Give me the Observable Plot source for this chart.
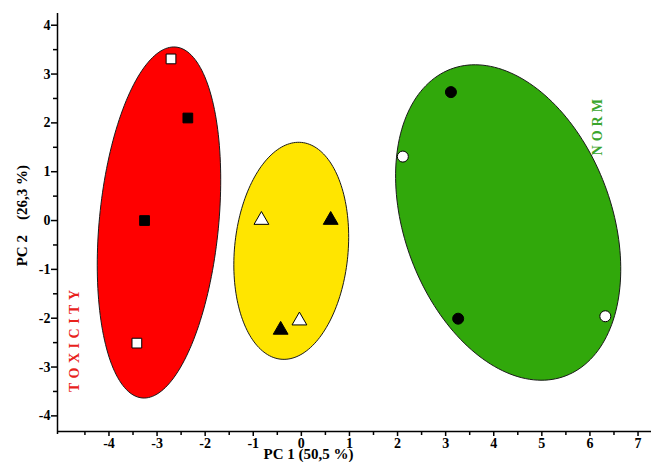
<!DOCTYPE html>
<html><head><meta charset="utf-8">
<script src="https://cdn.jsdelivr.net/npm/d3@7"></script>
<script src="https://cdn.jsdelivr.net/npm/@observablehq/plot@0.6"></script>
<style>body{margin:0;background:#fff} svg{display:block}</style>
</head><body><div id="chart"></div>
<script>
// Groups and their confidence ellipses (PCA score plot)
const groups       = ["TOXICITY", "MIDDLE", "NORM"];
const groupFill    = ["#ff0000", "#ffe500", "#31a80b"];
const groupSymbol  = ["square", "triangle", "circle"];
const ellipseCx    = [-2.96, -0.21, 4.30];
const ellipseCy    = [-0.04, -0.62, -0.04];
const ellipseA     = [3.61, 2.23, 3.36];   // semi-major (mostly vertical)
const ellipseB     = [1.24, 1.18, 2.15];   // semi-minor
const ellipseTilt  = [5.6, 5.5, -21];      // degrees, top leaning to +x

// Sample scores
const pointGroup = [0, 0, 0, 0, 1, 1, 1, 1, 2, 2, 2, 2];
const pointX     = [-2.71, -2.36, -3.26, -3.42, -0.83, 0.61, -0.04, -0.43, 3.11, 2.11, 3.26, 6.32];
const pointY     = [3.31, 2.10, 0.00, -2.51, 0.01, 0.01, -2.05, -2.24, 2.63, 1.31, -2.01, -1.96];
const pointFill  = ["white", "black", "black", "white", "white", "black", "white", "black", "black", "white", "black", "white"];

// Tick values and labels
const xTicks = d3.range(-4, 8);
const xMinor = d3.range(-4.5, 7.5, 1);
const yTicks = d3.range(-4, 5);
const yMinor = d3.range(-3.5, 4, 1);
const xLabel = "PC 1 (50,5 %)";
const yLabel = "PC 2\u00a0\u00a0\u00a0\u00a0(26,3 %)";
const xDomain = [-5.07, 7.28];
const yDomain = [-4.32, 4.24];

// Annotation text
const annText  = ["TOXICITY", "NORM"];
const annX     = [-4.72, 6.15];
const annY     = [-2.42, 1.95];
const annColor = ["#e8221c", "#3aa52c"];

const ellipsePts = [];
groups.forEach((g, i) => {
  const t = ellipseTilt[i] * Math.PI / 180;
  const d = [Math.sin(t), Math.cos(t)], m = [Math.cos(t), -Math.sin(t)];
  for (let k = 0; k < 180; k++) {
    const a = k / 180 * 2 * Math.PI;
    ellipsePts.push({g: i,
      x: ellipseCx[i] + ellipseA[i] * Math.sin(a) * d[0] + ellipseB[i] * Math.cos(a) * m[0],
      y: ellipseCy[i] + ellipseA[i] * Math.sin(a) * d[1] + ellipseB[i] * Math.cos(a) * m[1]});
  }
});
const points = pointX.map((x, i) => ({x, y: pointY[i], g: pointGroup[i], fill: pointFill[i]}));

const font = "Liberation Serif, Times New Roman, serif";
const fmt = d => d < 0 ? "-" + (-d) : String(d);
const marks = [];
groups.forEach((g, i) => {
  marks.push(Plot.line(ellipsePts.filter(d => d.g === i), {x: "x", y: "y", fill: groupFill[i], stroke: "#1a1a1a", strokeWidth: 1, curve: "linear-closed"}));
});
groups.forEach((g, i) => {
  marks.push(Plot.dot(points.filter(d => d.g === i), {x: "x", y: "y", symbol: groupSymbol[i], r: 5.5, fill: "fill", stroke: "black", strokeWidth: 1}));
});
marks.push(
  Plot.ruleX([xDomain[0]], {stroke: "black", strokeWidth: 1.5, y1: yDomain[0] - 0.06, y2: yDomain[1]}),
  Plot.ruleY([yDomain[0]], {stroke: "black", strokeWidth: 1.5}),
  Plot.axisX({ticks: xTicks, tickSize: 5, tickPadding: 2, label: null, tickFormat: fmt, fontWeight: "bold", fontSize: 14, strokeWidth: 1.5}),
  Plot.axisX({ticks: xMinor, tickSize: 4, label: null, tickFormat: () => "", strokeWidth: 1.5}),
  Plot.axisY({ticks: yTicks, tickSize: 6, tickPadding: 1, label: null, tickFormat: fmt, fontWeight: "bold", fontSize: 14, strokeWidth: 1.5}),
  Plot.axisY({ticks: yMinor, tickSize: 4, label: null, tickFormat: () => "", strokeWidth: 1.5}),
  Plot.text([xLabel], {x: [0.15], y: [-4.775], text: d => d, fontWeight: "bold", fontSize: 15, fill: "black"}),
  Plot.text([yLabel], {x: [-5.8], y: [0.1], text: d => d, rotate: -90, fontWeight: "bold", fontSize: 15, fill: "black"}),
  Plot.text(annText, {x: annX, y: annY, text: d => d, rotate: -90, fill: annColor, fontWeight: "bold", fontSize: 14})
);

const chart = Plot.plot({
  width: 651, height: 462,
  marginLeft: 57, marginRight: 0, marginTop: 13, marginBottom: 31,
  x: {domain: xDomain},
  y: {domain: yDomain},
  style: {fontFamily: font, background: "white", color: "black", overflow: "visible"},
  marks
});
chart.querySelectorAll("text").forEach(t => {
  if (t.textContent === "TOXICITY") t.setAttribute("letter-spacing", "4.5");
  if (t.textContent === "NORM") t.setAttribute("letter-spacing", "4");
});
document.getElementById("chart").appendChild(chart);
</script>
</body></html>
